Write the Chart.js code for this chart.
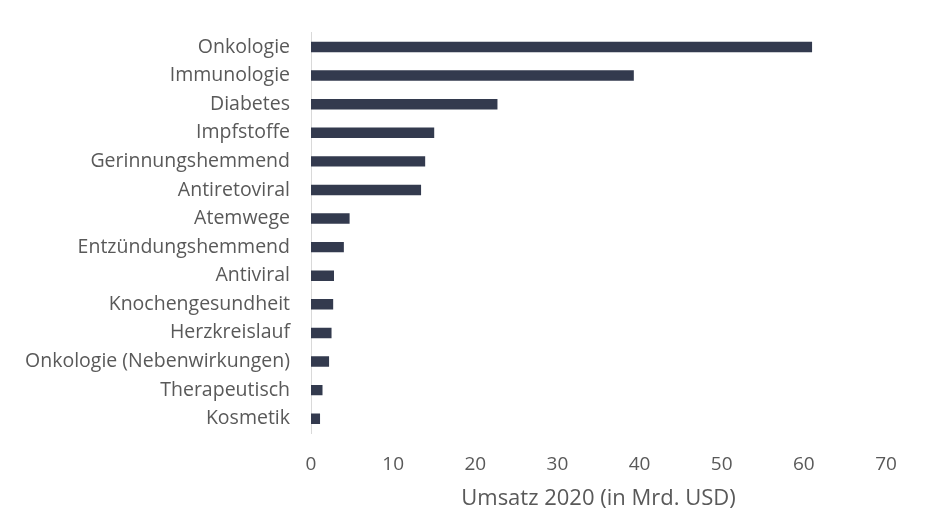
<!DOCTYPE html>
<html>
<head>
<meta charset="utf-8">
<script src="https://cdn.jsdelivr.net/npm/chart.js@4"></script>
<style>
  html, body { margin: 0; padding: 0; background: #fff; }
  #wrap { width: 939px; height: 525px; }
</style>
</head>
<body>
<div id="wrap"><canvas id="grafica"></canvas></div>
<script>
const kategorien = [
    "Onkologie", "Immunologie", "Diabetes", "Impfstoffe", "Gerinnungshemmend",
    "Antiretoviral", "Atemwege", "Entzündungshemmend", "Antiviral", "Knochengesundheit",
    "Herzkreislauf", "Onkologie (Nebenwirkungen)", "Therapeutisch", "Kosmetik"
]
const umsatz = [61, 39.3, 22.7, 15.0, 13.9, 13.4, 4.7, 4.0, 2.8, 2.7, 2.5, 2.2, 1.4, 1.1]
const xTicks = [0, 10, 20, 30, 40, 50, 60, 70]
const achsenTitel = "Umsatz 2020 (in Mrd. USD)"

const schrift = "'Open Sans', Calibri, sans-serif"
const grau = "#595959"

const ctx = document.getElementById("grafica").getContext("2d")

new Chart(ctx, {
    type: "bar",
    data: {
        labels: kategorien,
        datasets: [{
            label: achsenTitel,
            data: umsatz,
            backgroundColor: "#333a4e",
            borderWidth: 0,
            barPercentage: 0.5,
            categoryPercentage: 0.73
        }]
    },
    options: {
        indexAxis: "y",
        responsive: true,
        maintainAspectRatio: false,
        animation: false,
        layout: { padding: { top: 32, right: 53, left: 0, bottom: 0 } },
        plugins: {
            legend: { display: false },
            tooltip: { enabled: false }
        },
        scales: {
            x: {
                min: 0,
                max: 70,
                afterBuildTicks: (scale) => { scale.ticks = xTicks.map(v => ({ value: v })) },
                afterFit: (scale) => { scale.height = 92 },
                grid: { display: false, drawTicks: false },
                border: { display: false },
                ticks: { color: grau, font: { family: schrift, size: 19 }, padding: 20 },
                title: {
                    display: true,
                    text: achsenTitel,
                    color: grau,
                    font: { family: schrift, size: 22 },
                    padding: { top: 6, bottom: 13 }
                }
            },
            y: {
                afterFit: (scale) => { scale.width = 311 },
                grid: { display: false, drawTicks: false },
                border: { display: true, color: "#d9d9d9", width: 1 },
                ticks: { color: grau, font: { family: schrift, size: 19.5 }, padding: 21, autoSkip: false }
            }
        }
    }
})
</script>
</body>
</html>
